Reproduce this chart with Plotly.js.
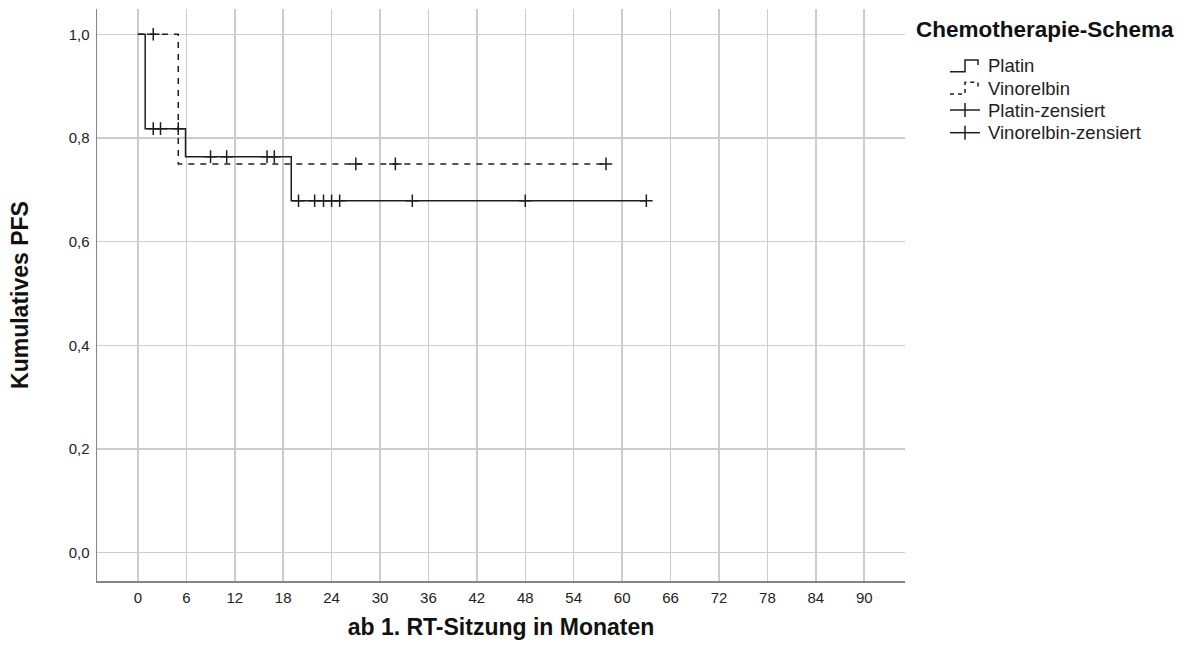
<!DOCTYPE html>
<html><head><meta charset="utf-8">
<script src="https://cdn.plot.ly/plotly-3.0.1.min.js"></script>
<style>html,body{margin:0;padding:0;background:#fff}#chart{width:1186px;height:647px}</style>
</head><body><div id="chart"></div>
<script>
// ---- data ----
const platinTimes = [0, 0.9, 5.9, 19.0];
const platinSurv = [1.0, 0.818, 0.764, 0.679];
const platinEnd = 63.0;
const platinCensored = [1.9, 2.8, 5.0, 9.0, 11.0, 16.0, 16.9, 19.9, 21.9, 23.0, 24.0, 25.0, 34.0, 48.0, 63.0];
const vinoTimes = [0, 5.0];
const vinoSurv = [1.0, 0.75];
const vinoEnd = 58.0;
const vinoCensored = [1.9, 27.0, 31.9, 58.0];
const xTickVals = [0, 6, 12, 18, 24, 30, 36, 42, 48, 54, 60, 66, 72, 78, 84, 90];
const yTickVals = [0, 0.2, 0.4, 0.6, 0.8, 1.0];
const yTickLabels = ['0,0', '0,2', '0,4', '0,6', '0,8', '1,0'];
const seriesNames = ['Platin', 'Vinorelbin', 'Platin-zensiert', 'Vinorelbin-zensiert'];
const legendTitle = 'Chemotherapie-Schema';
const xTitle = 'ab 1. RT-Sitzung in Monaten';
const yTitle = 'Kumulatives PFS';

// ---- helpers ----
function stepX(times, end) { return times.concat([end]); }
function stepY(surv) { return surv.concat([surv[surv.length - 1]]); }
function survAt(times, surv, t) {
  let v = surv[0];
  for (let i = 0; i < times.length; i++) if (times[i] <= t) v = surv[i];
  return v;
}
const FONT = 'Liberation Sans, Arial, Helvetica, sans-serif';
const INK = '#1e1e1e';
const W = 1186, H = 647, L = 97, R = 905, T = 9, B = 581;
const fx = p => (p - L) / (R - L);
const fy = p => (B - p) / (B - T);

const traces = [
  { x: stepX(vinoTimes, vinoEnd), y: stepY(vinoSurv), mode: 'lines', line: { shape: 'hv', color: INK, width: 1.5, dash: '6px,6px' }, name: seriesNames[1], showlegend: false, hoverinfo: 'skip' },
  { x: stepX(platinTimes, platinEnd), y: stepY(platinSurv), mode: 'lines', line: { shape: 'hv', color: INK, width: 1.5 }, name: seriesNames[0], showlegend: false, hoverinfo: 'skip' },
  { x: platinCensored, y: platinCensored.map(t => survAt(platinTimes, platinSurv, t)), mode: 'markers', marker: { symbol: 'cross-thin', size: 9, line: { color: INK, width: 1.5 } }, name: seriesNames[2], showlegend: false, hoverinfo: 'skip' },
  { x: vinoCensored, y: vinoCensored.map(t => survAt(vinoTimes, vinoSurv, t)), mode: 'markers', marker: { symbol: 'cross-thin', size: 9, line: { color: INK, width: 1.5 } }, name: seriesNames[3], showlegend: false, hoverinfo: 'skip' }
];

// ---- manual legend (SPSS style) ----
const rowY = [65.7, 88, 110, 132.7];
const shapes = [];
const annotations = [];
function stepIcon(yc, dash) {
  const x0 = 950, x1 = 965, x2 = 978;
  const yb = yc + 6, yt = yc - 5.7, ye = yc - 0.7;
  const path = `M ${fx(x0)},${fy(yb)} L ${fx(x1)},${fy(yb)} L ${fx(x1)},${fy(yt)} L ${fx(x2)},${fy(yt)} L ${fx(x2)},${fy(ye)}`;
  shapes.push({ type: 'path', xref: 'paper', yref: 'paper', path: path, line: { color: INK, width: 1.5, dash: dash } });
}
function crossIcon(yc) {
  shapes.push({ type: 'line', xref: 'paper', yref: 'paper', x0: fx(950), x1: fx(980), y0: fy(yc), y1: fy(yc), line: { color: INK, width: 1.5 } });
  shapes.push({ type: 'line', xref: 'paper', yref: 'paper', x0: fx(965), x1: fx(965), y0: fy(yc - 7), y1: fy(yc + 7), line: { color: INK, width: 1.5 } });
}
stepIcon(rowY[0], 'solid');
stepIcon(rowY[1], '4px,4px');
crossIcon(rowY[2]);
crossIcon(rowY[3]);
seriesNames.forEach((n, i) => {
  annotations.push({ xref: 'paper', yref: 'paper', x: fx(986), y: fy(rowY[i]), xanchor: 'left', yanchor: 'middle', text: n, showarrow: false, font: { family: FONT, size: 18.5, color: INK } });
});
annotations.push({ xref: 'paper', yref: 'paper', x: fx(914), y: fy(30), xanchor: 'left', yanchor: 'middle', text: legendTitle, showarrow: false, font: { family: FONT, size: 22.5, color: '#111', weight: 'bold' } });

const axisCommon = {
  showgrid: true, gridcolor: '#cccccc', gridwidth: 1.5,
  showline: true, linecolor: '#858585', linewidth: 1.5,
  zeroline: false, ticks: '', fixedrange: true,
  tickfont: { family: FONT, size: 15, color: '#222' }
};

const layout = {
  width: W, height: H,
  margin: { l: L, r: W - R, t: T, b: H - B, pad: 0 },
  paper_bgcolor: '#ffffff', plot_bgcolor: '#ffffff',
  showlegend: false,
  xaxis: Object.assign({}, axisCommon, {
    range: [-5.07, 95.05], tickmode: 'array', tickvals: xTickVals,
    ticklabelstandoff: 2,
    title: { text: xTitle, font: { family: FONT, size: 23, color: '#111', weight: 'bold' }, standoff: 14 }
  }),
  yaxis: Object.assign({}, axisCommon, {
    range: [-0.0546, 1.0488], tickmode: 'array', tickvals: yTickVals, ticktext: yTickLabels,
    ticklabelstandoff: 3,
    title: { text: yTitle, font: { family: FONT, size: 23, color: '#111', weight: 'bold' }, standoff: 33 }
  }),
  shapes: shapes,
  annotations: annotations
};

Plotly.newPlot('chart', traces, layout, { displayModeBar: false, staticPlot: true });
</script>
</body></html>
